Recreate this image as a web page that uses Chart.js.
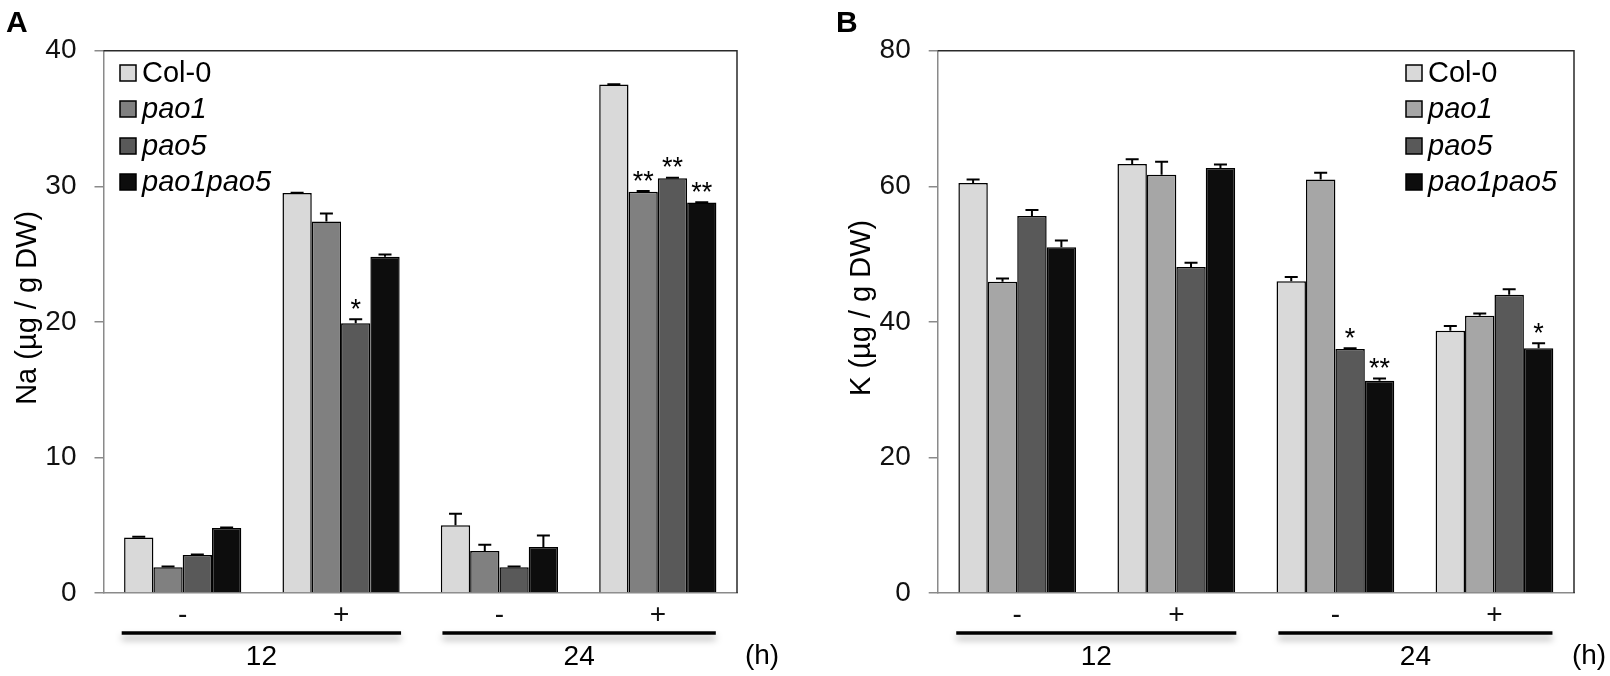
<!DOCTYPE html>
<html><head><meta charset="utf-8">
<script src="https://cdn.jsdelivr.net/npm/chart.js@4.4.0/dist/chart.umd.min.js"></script>
<style>
html,body{margin:0;padding:0;background:#fff;}
#wrap{position:relative;width:1610px;height:676px;overflow:hidden;background:#fff;}
canvas{position:absolute;top:0;}
</style></head><body>
<div id="wrap">
<canvas id="cA" width="805" height="676" style="left:0;width:805px;height:676px"></canvas>
<canvas id="cB" width="805" height="676" style="left:805px;width:805px;height:676px"></canvas>
</div>
<script>
// ---------- data ----------
const categories = ['-', '+', '-', '+'];
const timeLabels = ['12', '24'];
const timeUnit = '(h)';
const seriesNames = ['Col-0', 'pao1', 'pao5', 'pao1pao5'];

// Panel A: Na (µg / g DW)
const naCol0     = [4.1, 29.5, 5.0, 37.5];
const naPao1     = [1.9, 27.4, 3.1, 29.6];
const naPao5     = [2.8, 19.9, 1.9, 30.6];
const naPao1pao5 = [4.8, 24.8, 3.4, 28.8];
const naErrCol0     = [0.05, 0.03, 0.85, 0.03];
const naErrPao1     = [0.05, 0.6, 0.45, 0.05];
const naErrPao5     = [0.04, 0.3, 0.05, 0.02];
const naErrPao1pao5 = [0.03, 0.17, 0.85, 0.02];
const naStarsCol0     = ['', '', '', ''];
const naStarsPao1     = ['', '', '', '**'];
const naStarsPao5     = ['', '*', '', '**'];
const naStarsPao1pao5 = ['', '', '', '**'];
const naTicks = [0, 10, 20, 30, 40];

// Panel B: K (µg / g DW)
const kCol0     = [60.5, 63.3, 46.0, 38.7];
const kPao1     = [45.9, 61.7, 61.0, 40.9];
const kPao5     = [55.6, 48.1, 36.0, 44.0];
const kPao1pao5 = [51.0, 62.7, 31.3, 36.1];
const kErrCol0     = [0.5, 0.7, 0.6, 0.7];
const kErrPao1     = [0.5, 1.9, 1.0, 0.35];
const kErrPao5     = [0.9, 0.6, 0.1, 0.8];
const kErrPao1pao5 = [1.0, 0.5, 0.35, 0.75];
const kStarsCol0     = ['', '', '', ''];
const kStarsPao1     = ['', '', '', ''];
const kStarsPao5     = ['', '', '*', ''];
const kStarsPao1pao5 = ['', '', '**', '*'];
const kTicks = [0, 20, 40, 60, 80];

// ---------- drawing ----------
const FONT = "'Liberation Sans', Arial, sans-serif";

function makePanel(id, cfg) {
  const datasets = cfg.values.map((v, i) => ({
    label: seriesNames[i],
    data: v,
    backgroundColor: cfg.colors[i],
    borderColor: '#000',
    borderWidth: 1.5,
    categoryPercentage: 0.74,
    barPercentage: 1.0
  }));

  const deco = {
    id: 'deco_' + id,
    afterDatasetsDraw(chart) {
      const ctx = chart.ctx;
      const ys = chart.scales.y;
      ctx.save();
      cfg.values.forEach((vals, i) => {
        const meta = chart.getDatasetMeta(i);
        meta.data.forEach((bar, j) => {
          const top = ys.getPixelForValue(vals[j] + cfg.errs[i][j]);
          ctx.strokeStyle = '#000';
          ctx.lineWidth = 2;
          ctx.beginPath();
          ctx.moveTo(bar.x, bar.y);
          ctx.lineTo(bar.x, top);
          ctx.moveTo(bar.x - 6.5, top);
          ctx.lineTo(bar.x + 6.5, top);
          ctx.stroke();
          const s = cfg.stars[i][j];
          if (s) {
            ctx.fillStyle = '#000';
            ctx.font = '27px ' + FONT;
            ctx.textAlign = 'center';
            ctx.textBaseline = 'alphabetic';
            ctx.fillText(s, bar.x, top - 17 + 15.5);
          }
        });
      });
      ctx.restore();
    },
    afterDraw(chart) {
      const ctx = chart.ctx;
      const ca = chart.chartArea;
      const xs = chart.scales.x;
      ctx.save();
      // frame top & right
      ctx.strokeStyle = '#2a2a2a';
      ctx.lineWidth = 1.5;
      ctx.beginPath();
      ctx.moveTo(ca.left, ca.top);
      ctx.lineTo(ca.right, ca.top);
      ctx.lineTo(ca.right, ca.bottom);
      ctx.stroke();

      // legend
      const lx = cfg.legendRight ? ca.right - 168 : ca.left + 16.5;
      const rows = [22.3, 58.3, 95.3, 131.3];
      seriesNames.forEach((n, i) => {
        const cy = ca.top + rows[i];
        ctx.fillStyle = cfg.colors[i];
        ctx.fillRect(lx, cy - 8, 16, 16);
        ctx.strokeStyle = '#000';
        ctx.lineWidth = 1.5;
        ctx.strokeRect(lx, cy - 8, 16, 16);
        ctx.fillStyle = '#000';
        ctx.font = (i === 0 ? '' : 'italic ') + '29px ' + FONT;
        ctx.textAlign = 'left';
        ctx.textBaseline = 'middle';
        ctx.fillText(n, lx + 22, cy + 1);
      });

      // time group lines
      const c = categories.map((_, k) => xs.getPixelForValue(k));
      const spans = [[c[0] - 61, c[1] + 60], [c[2] - 57, c[3] + 58]];
      const ly = ca.bottom + 40;
      spans.forEach((sp, k) => {
        ctx.save();
        ctx.shadowColor = 'rgba(0,0,0,0.35)';
        ctx.shadowBlur = 7;
        ctx.shadowOffsetY = 5;
        ctx.strokeStyle = '#000';
        ctx.lineWidth = 3.5;
        ctx.beginPath();
        ctx.moveTo(sp[0], ly);
        ctx.lineTo(sp[1], ly);
        ctx.stroke();
        ctx.restore();
        ctx.fillStyle = '#000';
        ctx.font = '28px ' + FONT;
        ctx.textAlign = 'center';
        ctx.textBaseline = 'middle';
        ctx.fillText(timeLabels[k], (sp[0] + sp[1]) / 2, ca.bottom + 64);
      });
      ctx.font = '28px ' + FONT;
      ctx.textAlign = 'center';
      ctx.textBaseline = 'middle';
      ctx.fillText(timeUnit, ca.right + cfg.unitDx, ca.bottom + 63);

      // y axis title
      ctx.save();
      ctx.translate(ca.left - 75.5, (ca.top + ca.bottom) / 2 - 14);
      ctx.rotate(-Math.PI / 2);
      ctx.font = '29px ' + FONT;
      ctx.textAlign = 'center';
      ctx.textBaseline = 'middle';
      ctx.fillText(cfg.title, 0, 0);
      ctx.restore();

      // panel letter
      ctx.font = 'bold 30px ' + FONT;
      ctx.textAlign = 'left';
      ctx.textBaseline = 'alphabetic';
      ctx.fillText(cfg.letter, cfg.letterX, 32);
      ctx.restore();
    }
  };

  return new Chart(document.getElementById(id), {
    type: 'bar',
    data: { labels: categories, datasets },
    options: {
      responsive: false,
      animation: false,
      layout: { padding: { left: 0, top: 50.7, right: cfg.padRight, bottom: 0 } },
      plugins: { legend: { display: false }, tooltip: { enabled: false } },
      scales: {
        x: {
          type: 'category',
          offset: true,
          grid: { display: false, drawTicks: false },
          border: { display: true, color: '#8a8a8a', width: 1.5 },
          ticks: { font: { family: FONT, size: 28 }, color: '#111', padding: 5, maxRotation: 0, autoSkip: false },
          afterFit(s) { s.height = 83; }
        },
        y: {
          min: 0,
          max: cfg.ticks[cfg.ticks.length - 1],
          afterBuildTicks(s) { s.ticks = cfg.ticks.map(v => ({ value: v })); },
          grid: { drawOnChartArea: false, drawTicks: true, tickLength: 9, color: '#8a8a8a', lineWidth: 1.5 },
          border: { display: true, color: '#8a8a8a', width: 1.5 },
          ticks: { font: { family: FONT, size: 28 }, color: '#111', padding: 18 },
          afterFit(s) { s.width = cfg.yWidth; }
        }
      }
    },
    plugins: [deco]
  });
}

makePanel('cA', {
  values: [naCol0, naPao1, naPao5, naPao1pao5],
  errs: [naErrCol0, naErrPao1, naErrPao5, naErrPao1pao5],
  stars: [naStarsCol0, naStarsPao1, naStarsPao5, naStarsPao1pao5],
  colors: ['#d9d9d9', '#808080', '#595959', '#0d0d0d'],
  ticks: naTicks,
  title: 'Na (µg / g DW)',
  letter: 'A', letterX: 6,
  yWidth: 103.5, padRight: 68,
  legendRight: false, unitDx: 25
});

makePanel('cB', {
  values: [kCol0, kPao1, kPao5, kPao1pao5],
  errs: [kErrCol0, kErrPao1, kErrPao5, kErrPao1pao5],
  stars: [kStarsCol0, kStarsPao1, kStarsPao5, kStarsPao1pao5],
  colors: ['#d9d9d9', '#a6a6a6', '#595959', '#0d0d0d'],
  ticks: kTicks,
  title: 'K (µg / g DW)',
  letter: 'B', letterX: 31,
  yWidth: 132.7, padRight: 36,
  legendRight: true, unitDx: 15
});
</script>
</body></html>
